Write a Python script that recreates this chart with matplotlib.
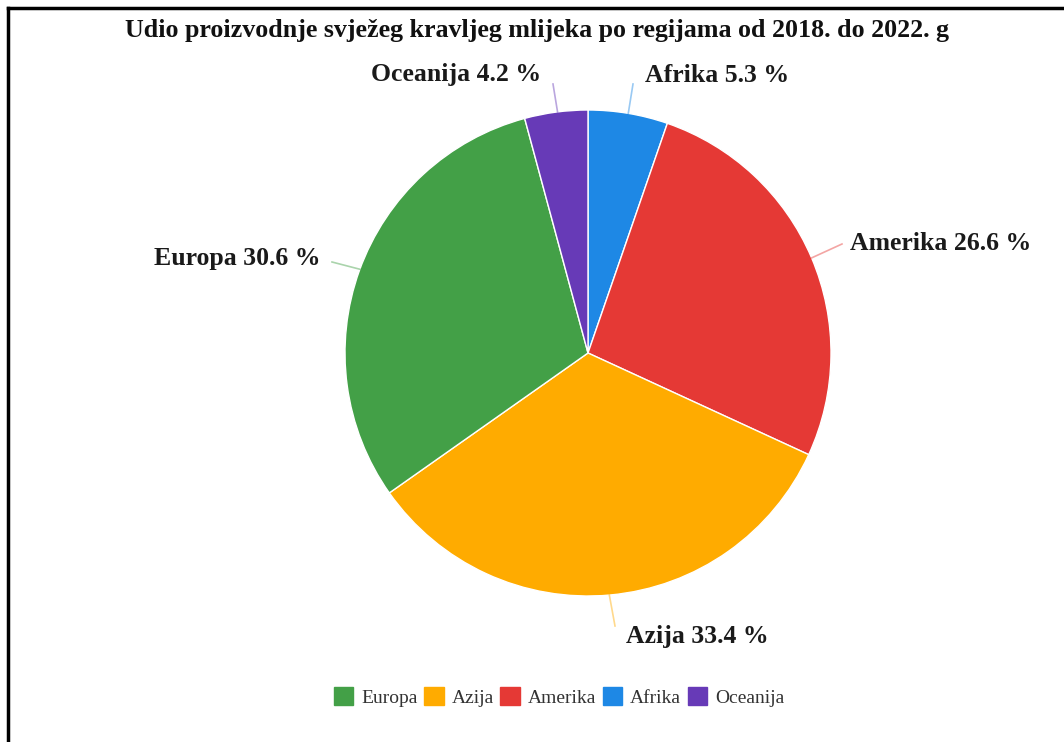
import matplotlib

matplotlib.use("Agg")
import numpy as np
import matplotlib.pyplot as plt
from matplotlib.lines import Line2D

# share of fresh cow milk production by region, 2018-2022 (clockwise from top)
regions = ["Afrika", "Amerika", "Azija", "Europa", "Oceanija"]
shares = [5.3, 26.6, 33.4, 30.6, 4.2]
colors = ["#1e88e5", "#e53935", "#ffab00", "#43a047", "#673ab7"]
legend_order = ["Europa", "Azija", "Amerika", "Afrika", "Oceanija"]

title = "Udio proizvodnje svježeg kravljeg mlijeka po regijama od 2018. do 2022. g"

# label anchor points (pixels from top-left) and alignment
label_pos = {
    "Afrika": (645, 75, "left"),
    "Amerika": (850, 243, "left"),
    "Azija": (697, 636, "center"),
    "Europa": (320, 258, "right"),
    "Oceanija": (541, 75, "right"),
}
line_end = {
    "Afrika": (633, 84),
    "Amerika": (842, 244),
    "Azija": (615, 626),
    "Europa": (332, 262),
    "Oceanija": (553, 84),
}

W, H = 1064, 742
cx, cy, R = 588, 353, 243

fig = plt.figure(figsize=(W / 100, H / 100), dpi=100)
ax = fig.add_axes([0, 0, 1, 1])

wedges, _ = ax.pie(shares, colors=colors, startangle=90, counterclock=False,
                   center=(cx, H - cy), radius=R, frame=True,
                   wedgeprops=dict(edgecolor="white", linewidth=1))
ax.set_xlim(0, W)
ax.set_ylim(0, H)
ax.set_aspect("equal")
ax.axis("off")

serif = ["Liberation Serif", "DejaVu Serif"]

start = 90.0
for name, val, col in zip(regions, shares, colors):
    mid = np.deg2rad(start - val * 3.6 / 2)
    start -= val * 3.6
    x0, y0 = cx + R * np.cos(mid), H - cy + R * np.sin(mid)
    x1, y1 = line_end[name]
    ax.plot([x0, x1], [y0, H - y1], color=col, alpha=0.45, lw=1.2)
    tx, ty, ha = label_pos[name]
    ax.text(tx, H - ty, f"{name} {val} %", ha=ha, va="center", fontsize=18.5,
            fontweight="bold", family=serif, color="#1a1a1a")

ax.text(537, H - 30, title, ha="center", va="center", fontsize=18.7,
        fontweight="bold", family=serif, color="#111111")

# legend
handles = [plt.Rectangle((0, 0), 1, 1, color=colors[regions.index(n)]) for n in legend_order]
fig.legend(handles, legend_order, loc="center", bbox_to_anchor=(559 / W, 1 - 697 / H),
           ncol=5, frameon=False, handlelength=1.0, handleheight=1.0,
           handletextpad=0.4, columnspacing=0.35,
           prop={"family": serif, "size": 14}, labelcolor="#333333")

# frame on left and top
fig.add_artist(Line2D([8 / W, 8 / W], [0, 1 - 8 / H], color="black", lw=2.5,
                      transform=fig.transFigure))
fig.add_artist(Line2D([8 / W, 1], [1 - 8 / H, 1 - 8 / H], color="black", lw=2.5,
                      transform=fig.transFigure))

fig.savefig("out.png", dpi=100)
